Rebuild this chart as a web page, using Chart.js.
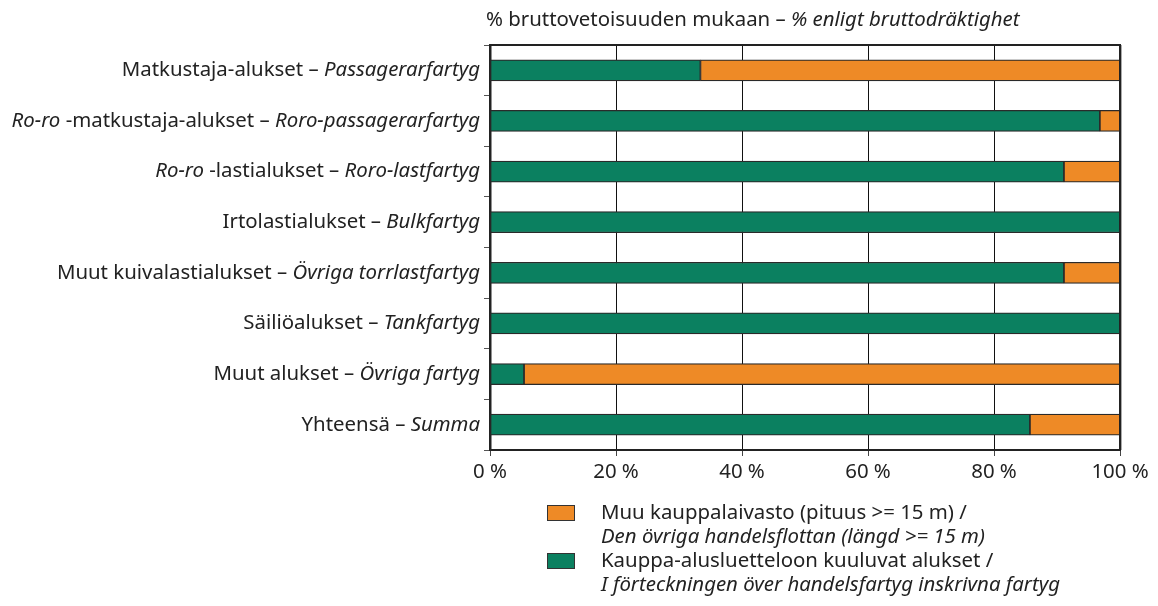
<!DOCTYPE html>
<html><head><meta charset="utf-8">
<script src="https://cdn.jsdelivr.net/npm/chart.js@4.4.1/dist/chart.umd.min.js"></script>
<style>html,body{margin:0;background:#fff}#wrap{width:1158px;height:606px}</style>
</head><body><div id="wrap"><canvas id="c"></canvas></div>
<script>
// *...* marks italic (Swedish) parts
const categories = [
  'Matkustaja-alukset – *Passagerarfartyg*',
  '*Ro-ro* -matkustaja-alukset – *Roro-passagerarfartyg*',
  '*Ro-ro* -lastialukset – *Roro-lastfartyg*',
  'Irtolastialukset – *Bulkfartyg*',
  'Muut kuivalastialukset – *Övriga torrlastfartyg*',
  'Säiliöalukset – *Tankfartyg*',
  'Muut alukset – *Övriga fartyg*',
  'Yhteensä – *Summa*'
];
const registered = [33.4, 96.8, 91.1, 100, 91.1, 100, 5.4, 85.7];
const otherFleet = [66.6, 3.2, 8.9, 0, 8.9, 0, 94.6, 14.3];
const xTicks = [0, 20, 40, 60, 80, 100];
const title = '% bruttovetoisuuden mukaan – *% enligt bruttodräktighet*';
const legendOther = ['Muu kauppalaivasto (pituus >= 15 m) /', '*Den övriga handelsflottan (längd >= 15 m)*'];
const legendRegistered = ['Kauppa-alusluetteloon kuuluvat alukset /', '*I förteckningen över handelsfartyg inskrivna fartyg*'];

const GREEN = '#0b8060', ORANGE = '#ee8a26', INK = '#222';
const FONT = '"Noto Sans", sans-serif', FS = 20.4;

function drawRich(ctx, text, x, y, align) {
  const parts = text.split('*');
  let w = 0;
  parts.forEach((p, i) => { ctx.font = (i % 2 ? 'italic ' : '') + FS + 'px ' + FONT; w += ctx.measureText(p).width; });
  let cx = align === 'right' ? x - w : x;
  ctx.textAlign = 'left';
  ctx.textBaseline = 'middle';
  parts.forEach((p, i) => {
    ctx.font = (i % 2 ? 'italic ' : '') + FS + 'px ' + FONT;
    ctx.fillText(p, cx, y);
    cx += ctx.measureText(p).width;
  });
}

const decor = {
  id: 'decor',
  afterDraw(chart) {
    const { ctx, chartArea: a, scales } = chart;
    ctx.save();
    ctx.fillStyle = INK;
    // category labels
    categories.forEach((c, i) => drawRich(ctx, c, a.left - 10, scales.y.getPixelForValue(i), 'right'));
    // title
    drawRich(ctx, title, a.left - 4, 20);
    // top and right frame
    ctx.strokeStyle = INK;
    ctx.lineWidth = 2;
    ctx.beginPath();
    ctx.moveTo(a.left, a.top); ctx.lineTo(a.right, a.top); ctx.lineTo(a.right, a.bottom);
    ctx.stroke();
    ctx.strokeStyle = '#aaa';
    ctx.lineWidth = 1;
    ctx.beginPath(); ctx.moveTo(a.right + 1.5, a.top); ctx.lineTo(a.right + 1.5, a.bottom); ctx.stroke();
    // legend
    const items = [[ORANGE, legendOther], [GREEN, legendRegistered]];
    let ly = a.bottom + 63;
    items.forEach(([col, lines]) => {
      ctx.fillStyle = col;
      ctx.fillRect(547, ly - 8, 28, 16);
      ctx.strokeStyle = '#333'; ctx.lineWidth = 1;
      ctx.strokeRect(547.5, ly - 7.5, 27, 15);
      ctx.fillStyle = INK;
      lines.forEach((l, k) => drawRich(ctx, l, 601, ly + k * 24.5));
      ly += 48;
    });
    ctx.restore();
  }
};

new Chart(document.getElementById('c'), {
  type: 'bar',
  data: {
    labels: categories.map(c => c.replace(/\*/g, '')),
    datasets: [
      { label: 'Kauppa-alusluetteloon kuuluvat alukset', data: registered, backgroundColor: GREEN },
      { label: 'Muu kauppalaivasto', data: otherFleet, backgroundColor: ORANGE }
    ]
  },
  options: {
    indexAxis: 'y',
    responsive: true,
    maintainAspectRatio: false,
    animation: false,
    layout: { padding: { top: 45, right: 38 } },
    datasets: { bar: { barThickness: 21, borderColor: '#2a2a2a', borderWidth: 1.2, borderSkipped: false } },
    plugins: { legend: { display: false }, tooltip: { enabled: false } },
    scales: {
      x: {
        stacked: true, min: 0, max: 100,
        afterBuildTicks: s => { s.ticks = xTicks.map(v => ({ value: v })); },
        afterFit: s => { s.height = 156; },
        border: { color: INK, width: 2 },
        grid: { color: ctx => ctx.tick && (ctx.tick.value === 0 || ctx.tick.value === 100) ? 'rgba(0,0,0,0)' : '#111', lineWidth: 1, tickLength: 6, tickColor: '#444' },
        ticks: { color: INK, padding: 4, font: { family: FONT, size: FS }, callback: v => v + ' %' }
      },
      y: {
        stacked: true,
        afterFit: s => { s.width = 490; },
        border: { color: INK, width: 2.5 },
        grid: { drawOnChartArea: false, tickLength: 6, tickColor: '#555' },
        ticks: { color: 'rgba(0,0,0,0)', callback: () => '' }
      }
    }
  },
  plugins: [decor]
});
</script>
</body></html>
